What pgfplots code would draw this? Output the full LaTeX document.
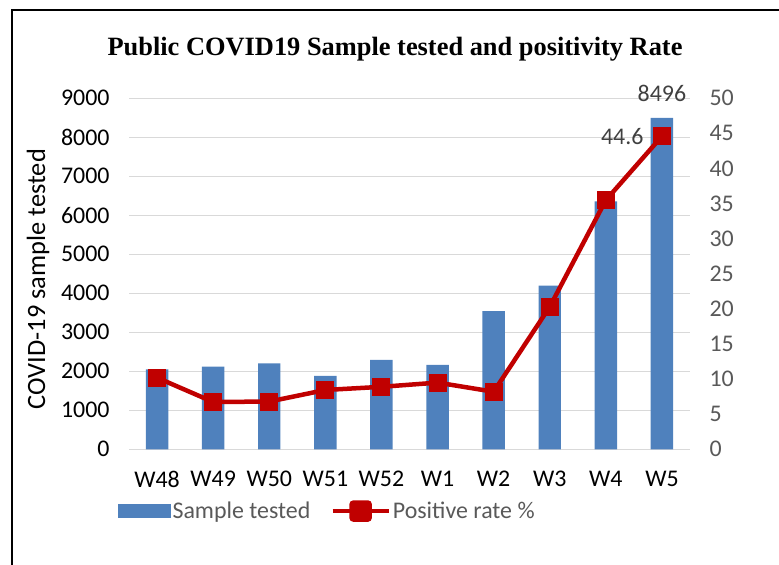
\documentclass[border=0pt]{standalone}
\usepackage{fontspec}
\setmainfont{Carlito}
\newfontfamily\titlefont{Liberation Serif}
\usepackage{pgfplots}
\pgfplotsset{compat=1.18}
\definecolor{barblue}{HTML}{4F81BD}
\definecolor{linered}{HTML}{C00000}
\definecolor{gridgray}{HTML}{D9D9D9}
\definecolor{labgray}{HTML}{595959}
\definecolor{datagray}{HTML}{404040}
\begin{document}
\begin{tikzpicture}[x=1bp,y=1bp]
\path[use as bounding box] (0bp,0bp) rectangle (779bp,565bp);
\draw[line width=2bp] (12bp,0bp) -- (12bp,555bp) -- (779bp,555bp);
\node[font=\titlefont\bfseries\fontsize{26.5}{30}\selectfont, anchor=base] at (395bp,509.3bp) {Public COVID19 Sample tested and positivity Rate};
\begin{axis}[at={(129bp,115.7bp)}, anchor=south west, width=561bp, height=351bp, scale only axis,
  xmin=-0.5, xmax=9.5, ymin=0, ymax=9000,
  ytick={0,1000,...,9000},
  xtick={0,...,9}, xticklabels={W48,W49,W50,W51,W52,W1,W2,W3,W4,W5},
  axis line style={draw=none}, tick style={draw=none},
  ymajorgrids, grid style={gridgray, line width=1.3bp},
  /pgf/number format/assume math mode=true, /pgf/number format/1000 sep={},
  ticklabel style={font=\fontsize{24}{28}\selectfont},
  yticklabel style={text=black, xshift=-16bp},
  xticklabel style={text=black, yshift=-18bp},
  ylabel={COVID-19 sample tested},
  ylabel style={font=\fontsize{26.5}{30}\selectfont, at={(rel axis cs:-0.162,0.485)}, anchor=center},
  clip=false]
\addplot[ybar, bar width=0.4, fill=barblue, draw=none] coordinates {
(0,2051) (1,2118) (2,2205) (3,1880) (4,2290) (5,2162) (6,3546) (7,4195) (8,6359) (9,8496)};
\node[datagray, font=\fontsize{24}{28}\selectfont, yshift=25bp] at (axis cs:9,8496) {8496};
\end{axis}
\begin{axis}[at={(129bp,115.7bp)}, anchor=south west, width=561bp, height=351bp, scale only axis,
  xmin=-0.5, xmax=9.5, ymin=0, ymax=50,
  ytick={0,5,...,50},
  axis y line*=right, axis x line=none,
  axis line style={draw=none}, tick style={draw=none},
  /pgf/number format/assume math mode=true,
  ticklabel style={font=\fontsize{24}{28}\selectfont},
  yticklabel style={text=labgray, xshift=16bp},
  clip=false,
  legend style={at={(rel axis cs:-0.025,-0.176)}, anchor=west, draw=none, fill=none,
    legend columns=2, font=\fontsize{24}{28}\selectfont, text=labgray,
    /tikz/every even column/.append style={column sep=18bp}},
  legend cell align=left]
\addlegendimage{legend image code/.code={\fill[barblue] (0bp,-6.5bp) rectangle (52bp,6.5bp);}}
\addlegendentry{Sample tested}
\addplot[linered, line width=4.5bp, mark=square*, mark size=8.5bp, mark options={solid, line width=1bp, rounded corners=2bp},
  legend image code/.code={\draw[linered, line width=4.5bp] (0bp,0bp) -- (56bp,0bp);
  \fill[linered, rounded corners=2bp] (19bp,-8.5bp) rectangle (37bp,8.5bp);}] coordinates {
(0,10.2) (1,6.74) (2,6.8) (3,8.45) (4,8.9) (5,9.5) (6,8.2) (7,20.3) (8,35.5) (9,44.6)};
\addlegendentry{Positive rate \%}
\node[datagray, font=\fontsize{24}{28}\selectfont, anchor=east, xshift=-15bp] at (axis cs:9,44.6) {44.6};
\end{axis}
\end{tikzpicture}
\end{document}
